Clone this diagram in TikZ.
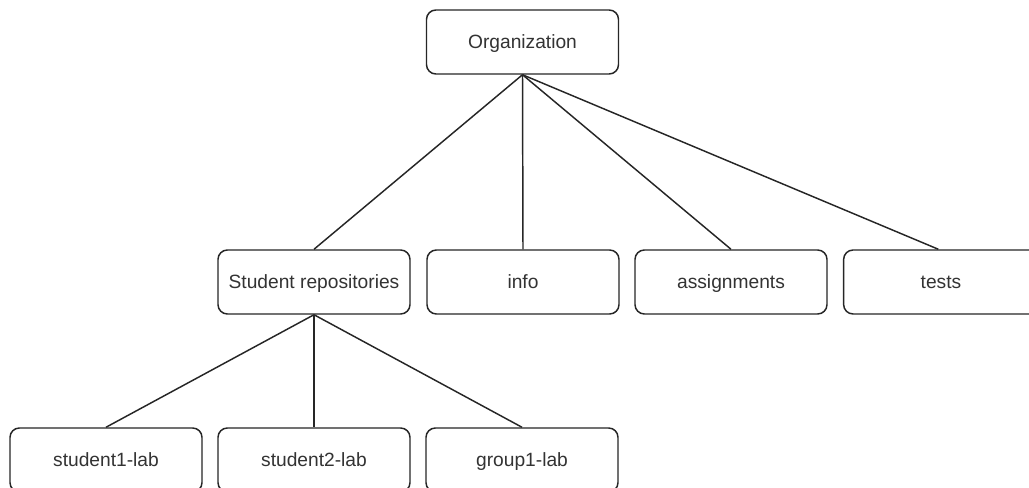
\documentclass[tikz,border=0pt]{standalone}
\usepackage{fontspec}
\setmainfont{Liberation Sans}
\begin{document}
\begin{tikzpicture}[x=0.75pt,y=-0.75pt,
  box/.style={draw=black!85, line width=1.1pt, rounded corners=7pt, fill=white,
    minimum width=144pt, minimum height=48pt, inner sep=0pt, text=black!80,
    text height=10.3pt, text depth=0pt,
    font=\fontsize{14.4}{17}\selectfont},
  link/.style={draw=black!85, line width=1.1pt}]
\useasboundingbox (0,0) rectangle (1029,488);
\begin{scope}
\clip (0,0) rectangle (1029,488);
\node[box] (org) at (522.5,42) {Organization};
\node[box] (sr) at (314,282) {Student repositories};
\node[box] (info) at (523,282) {info};
\node[box] (asg) at (731,282) {assignments};
\node[box, minimum width=146pt] (tests) at (941,282) {tests};
\node[box] (s1) at (106,460) {student1-lab};
\node[box] (s2) at (314,460) {student2-lab};
\node[box] (g1) at (522,460) {group1-lab};
\draw[link] (org.south) -- (sr.north);
\draw[link] (org.south) -- (info.north);
\draw[link] (org.south) -- (asg.north);
\draw[link] (org.south) -- ([xshift=-2]tests.north);
\draw[link] (sr.south) -- (s1.north);
\draw[link] (sr.south) -- (s2.north);
\draw[link] (sr.south) -- (g1.north);
\end{scope}
\end{tikzpicture}
\end{document}
